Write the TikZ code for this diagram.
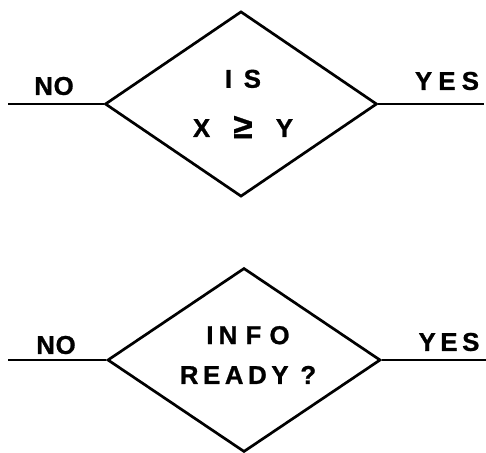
\documentclass[tikz,border=0pt]{standalone}
\usepackage{fontspec}
\setmainfont{Liberation Sans}
\newfontfamily\letterfont{Liberation Sans Bold}[FakeBold=1]
\newcommand{\bigge}{\raisebox{-0.05em}{\fontsize{30}{30}\selectfont ≥}}
\usetikzlibrary{shapes.geometric}

\begin{document}
\begin{tikzpicture}[
    x=0.03cm, y=-0.03cm,
    every node/.style={align=center},
    lettering/.style={
        font=\letterfont\fontsize{22}{42}\selectfont\addfontfeature{LetterSpace=#1},
        inner sep=0pt
    },
    lettering/.default=0,
    decision/.style={
        draw, diamond, inner sep=0pt, line width=2.3pt,
        minimum width=8.16cm, minimum height=5.56cm
    },
    branch/.style={line width=2.3pt}
]
\useasboundingbox (0,0) rectangle (486,452);

% --------------------------------------------------------------------------
% First test: compare X with Y.
% --------------------------------------------------------------------------
\node[decision] (cmp) at (241,104) {};
\node[lettering=30] (cmptext) at (243,104)
    {I\hspace{0.45em}S\\X\hspace{0.9em}\bigge\hspace{0.9em}Y};
\coordinate (cmpno) at (8,104);
\coordinate (cmpyes) at (484,104);
\draw[branch] (cmpno) -- (cmp.west);
\draw[branch] (cmp.east) -- (cmpyes);
\node[lettering=3] (cmpnolabel) at (54,86) {NO};
\node[lettering=24] (cmpyeslabel) at (447,81) {YES};

% --------------------------------------------------------------------------
% Second test: is the info ready.
% --------------------------------------------------------------------------
\node[decision, minimum height=5.52cm, minimum width=8.19cm] (rdy) at (244,360) {};
\node[lettering, font=\letterfont\fontsize{22}{34}\selectfont\addfontfeature{LetterSpace=18}]
    (rdytext) at (248,355) {{\addfontfeature{LetterSpace=32}I\hspace{0.2em}NFO}\\READY ?};
\coordinate (rdyno) at (8,360);
\coordinate (rdyyes) at (486,360);
\draw[branch] (rdyno) -- (rdy.west);
\draw[branch] (rdy.east) -- (rdyyes);
\node[lettering=3] (rdynolabel) at (56,345) {NO};
\node[lettering=18] (rdyyeslabel) at (449,342) {YES};

\end{tikzpicture}
\end{document}
